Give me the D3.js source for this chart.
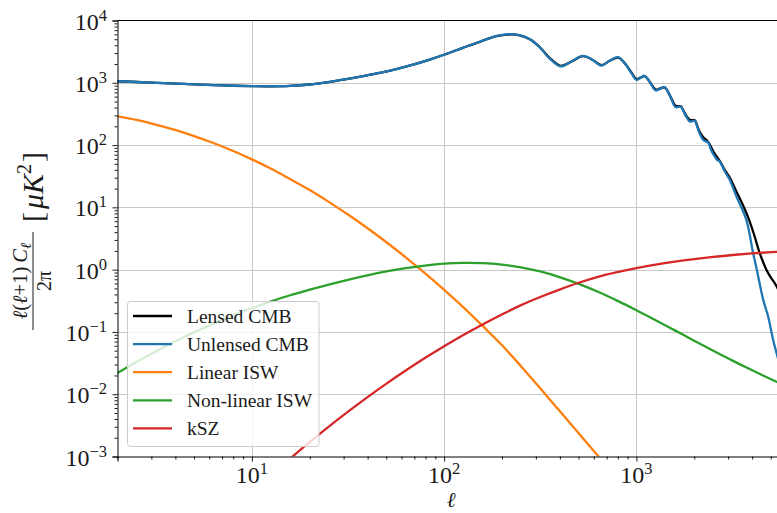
<!DOCTYPE html>
<html><head><meta charset="utf-8">
<script src="https://cdn.jsdelivr.net/npm/d3@7"></script>
<style>
html,body{margin:0;padding:0;background:#fff;}
svg{display:block;}
text{font-family:"Liberation Serif","DejaVu Serif",serif;fill:#1a1a1a;}
</style></head>
<body><svg id="chart" width="777" height="513"></svg>
<script>
// Angular power spectra, D_ell = ell(ell+1)C_ell/2pi in muK^2
const ellUnlensed = [2,3,4,5,7,10,12.6,15.8,20,25.4,31,37.8,46.2,56.4,68.9,84.1,100.6,125,153,187,211,225,247,279,314,354,404,460,527,590,658,730,804,870,940,1000,1050,1104,1180,1260,1330,1402,1500,1596,1650,1700,1800,1893,1950,2010,2120,2222,2290,2360,2460,2556,2630,2711,2880,3057,3311,3730,4046,4229,4564,4845,5140,5355,5600,6000];
const dlUnlensed  = [1059,1007,971,944,908,883,879,891,938,1035,1143,1276,1439,1656,1950,2355,2844,3639,4560,5623,5980,6050,5800,5000,3700,2450,1830,2200,2710,2350,1895,2300,2580,2050,1450,1117,1200,1295,1000,752,800,853,600,407,410,417,300,239,243,245,160,122,115,110,80,65.6,58,54.6,38,27.7,15,6.3,1.85,1.0,0.33,0.177,0.075,0.046,0.028,0.014];

const ellLensed = [2,3,4,5,7,10,12.6,15.8,20,25.4,31,37.8,46.2,56.4,68.9,84.1,100.6,125,153,187,211,225,247,279,314,354,404,460,527,590,658,730,804,870,940,1000,1050,1104,1180,1260,1330,1402,1500,1596,1650,1700,1800,1893,1950,2010,2120,2222,2360,2556,2711,2880,3057,3311,3600,3855,4100,4378,4744,5000,5237,5600,6000];
const dlLensed    = [1059,1007,971,944,908,883,879,891,938,1035,1143,1276,1439,1656,1950,2355,2844,3639,4550,5590,5930,6000,5760,5000,3750,2500,1870,2200,2680,2350,1920,2280,2540,2060,1480,1150,1210,1280,1010,780,810,845,610,430,420,420,310,255,252,250,170,135,112,72,56,40,30,18,10.5,6.3,3.6,1.85,1.0,0.75,0.61,0.42,0.3];

const ellLinISW = [2,2.51,3.16,3.98,5.01,6.31,7.94,10,12.6,15.8,20,25.1,31.6,39.8,50.1,63.1,79.4,100,126,158,200,251,316,398,501,631,794];
const dlLinISW  = [290,252.9,213.8,175.4,139.6,107.9,80.9,58.9,41.6,28.5,18.97,12.25,7.67,4.67,2.754,1.578,0.877,0.473,0.248,0.126,0.061,0.0282,0.01245,0.00543,0.00236,0.001026,0.000447];

const ellNlISW = [2,2.51,3.16,3.98,5.01,6.31,7.94,10,12.6,15.8,20,25.1,31.6,39.8,50.1,63.1,79.4,100,126,158,200,251,316,398,501,631,794,1000,1259,1585,1995,2512,3162,3981,5012,6310];
const dlNlISW  = [0.0219,0.0329,0.0485,0.070,0.0986,0.1358,0.1828,0.2404,0.309,0.388,0.4764,0.575,0.687,0.809,0.935,1.057,1.164,1.247,1.285,1.271,1.205,1.089,0.935,0.760,0.590,0.441,0.318,0.2234,0.1545,0.1059,0.0724,0.0498,0.0346,0.0244,0.0174,0.0125];

const ellKSZ = [12,15.85,19.95,25.12,31.62,39.81,50.12,63.1,79.43,100,125.9,158.5,199.5,251.2,316.2,398.1,501.2,631,794.3,1000,1259,1585,1995,2512,3162,3981,5012,6026];
const dlKSZ  = [0.00044,0.00093,0.0017,0.00302,0.00525,0.00891,0.01479,0.02399,0.03802,0.05888,0.08913,0.1318,0.1905,0.2692,0.3631,0.4786,0.6166,0.7674,0.912,1.059,1.202,1.340,1.472,1.600,1.718,1.820,1.905,1.963];

const legendLabels = ["Lensed CMB","Unlensed CMB","Linear ISW","Non-linear ISW","kSZ"];
const seriesColors = ["#000000","#1f77b4","#ff7f0e","#2ca02c","#d62728"];
const xMajor = [10,100,1000];
const yMajorExp = [-3,-2,-1,0,1,2,3,4];

const svg = d3.select("#chart");
const L = 117.5, T = 20.5, R = 786, B = 456.5;
const x = d3.scaleLog().domain([2,6000]).range([L,R]);
const y = d3.scaleLog().domain([1e-3,1e4]).range([B,T]);

const minorX = [];
for (let d=1; d<=1000; d*=10) for (let m=2; m<=9; m++) { const v=m*d; if (v>=2 && v<=6000) minorX.push(v); }
const minorY = [];
for (let e=-3; e<4; e++) for (let m=2; m<=9; m++) minorY.push(m*Math.pow(10,e));

// grid
const grid = svg.append("g").attr("stroke","#c8c8c8").attr("stroke-width",1);
xMajor.forEach(v => grid.append("line").attr("x1",Math.round(x(v))+0.5).attr("x2",Math.round(x(v))+0.5).attr("y1",T).attr("y2",B));
yMajorExp.slice(1,-1).forEach(e => { const yy=Math.round(y(Math.pow(10,e)))+0.5; grid.append("line").attr("x1",L).attr("x2",R).attr("y1",yy).attr("y2",yy); });

// curves
svg.append("clipPath").attr("id","clip").append("rect").attr("x",L).attr("y",T).attr("width",R-L).attr("height",B-T);
const line = d3.line().x(d=>x(d[0])).y(d=>y(d[1])).curve(d3.curveCatmullRom.alpha(0.5));
const series = [
  [ellLensed, dlLensed],
  [ellUnlensed, dlUnlensed],
  [ellLinISW, dlLinISW],
  [ellNlISW, dlNlISW],
  [ellKSZ, dlKSZ]
];
const curves = svg.append("g").attr("clip-path","url(#clip)");
series.forEach((s,i) => {
  curves.append("path").datum(d3.zip(s[0],s[1])).attr("d",line)
    .attr("fill","none").attr("stroke",seriesColors[i]).attr("stroke-width",2.3)
    .attr("stroke-linejoin","round").attr("stroke-linecap","square");
});

// axes: major and minor ticks
const axB = svg.append("g").attr("transform",`translate(0,${B})`);
axB.call(d3.axisBottom(x).tickValues(xMajor).tickSize(5).tickFormat(""));
axB.append("g").attr("class","minor").call(d3.axisBottom(x).tickValues(minorX).tickSize(3).tickFormat(""));
const axLft = svg.append("g").attr("transform",`translate(${L},0)`);
axLft.call(d3.axisLeft(y).tickValues(yMajorExp.map(e=>Math.pow(10,e))).tickSize(5).tickFormat(""));
axLft.append("g").attr("class","minor").call(d3.axisLeft(y).tickValues(minorY).tickSize(3).tickFormat(""));
svg.selectAll(".minor .domain").remove();
svg.selectAll(".domain").attr("stroke","#000").attr("stroke-width",1);
svg.selectAll(".tick line").attr("stroke","#000").attr("stroke-width",0.9);
svg.append("line").attr("x1",L).attr("x2",R).attr("y1",T).attr("y2",T).attr("stroke","#000").attr("stroke-width",1);

// tick labels with superscript exponents
const FS = 24, SFS = 16.5;
xMajor.forEach(v => {
  const t = svg.append("text").attr("x",x(v)).attr("y",483).attr("text-anchor","middle").attr("font-size",FS);
  t.append("tspan").text("10");
  t.append("tspan").attr("font-size",SFS).attr("dy",-9).text(String(Math.round(Math.log10(v))));
});
yMajorExp.forEach(e => {
  const t = svg.append("text").attr("x",107).attr("y",y(Math.pow(10,e))+9).attr("text-anchor","end").attr("font-size",FS);
  t.append("tspan").text("10");
  t.append("tspan").attr("font-size",SFS).attr("dy",-9).text(e<0 ? "\u2212"+(-e) : String(e));
});

// axis titles
svg.append("text").attr("x",451).attr("y",507).attr("text-anchor","middle").attr("font-size",21).attr("font-style","italic").text("\u2113");
const yl = svg.append("g").attr("transform","translate(33,281) rotate(-90)");
const num = yl.append("text").attr("x",0).attr("y",-6).attr("text-anchor","middle").attr("font-size",20.5);
num.append("tspan").attr("font-style","italic").text("\u2113");
num.append("tspan").text("(");
num.append("tspan").attr("font-style","italic").text("\u2113");
num.append("tspan").text("+1)\u2009");
num.append("tspan").attr("font-style","italic").text("C");
num.append("tspan").attr("font-style","italic").attr("font-size",15).attr("dy",4).text("\u2113");
yl.append("line").attr("x1",-49).attr("x2",49).attr("y1",0).attr("y2",0).attr("stroke","#1a1a1a").attr("stroke-width",1);
yl.append("text").attr("x",0).attr("y",18).attr("text-anchor","middle").attr("font-size",20).text("2\u03c0");
const unit = yl.append("text").attr("x",59).attr("y",10).attr("font-size",30);
unit.append("tspan").text("[");
unit.append("tspan").attr("font-style","italic").attr("dx",3).text("\u03bcK");
unit.append("tspan").attr("font-size",20).attr("dy",-12).text("2");
unit.append("tspan").attr("dy",12).attr("dx",2).text("]");

// legend
const lg = svg.append("g");
lg.append("rect").attr("x",127.5).attr("y",301.5).attr("width",191.5).attr("height",145).attr("rx",3)
  .attr("fill","#fff").attr("fill-opacity",0.8).attr("stroke","#cccccc").attr("stroke-width",1);
legendLabels.forEach((lab,i) => {
  const cy = 316 + i*28.1;
  lg.append("line").attr("x1",133).attr("x2",172).attr("y1",cy).attr("y2",cy).attr("stroke",seriesColors[i]).attr("stroke-width",2.3);
  lg.append("text").attr("x",187).attr("y",cy+6.5).attr("font-size",19.5).text(lab);
});
</script>
</body></html>
